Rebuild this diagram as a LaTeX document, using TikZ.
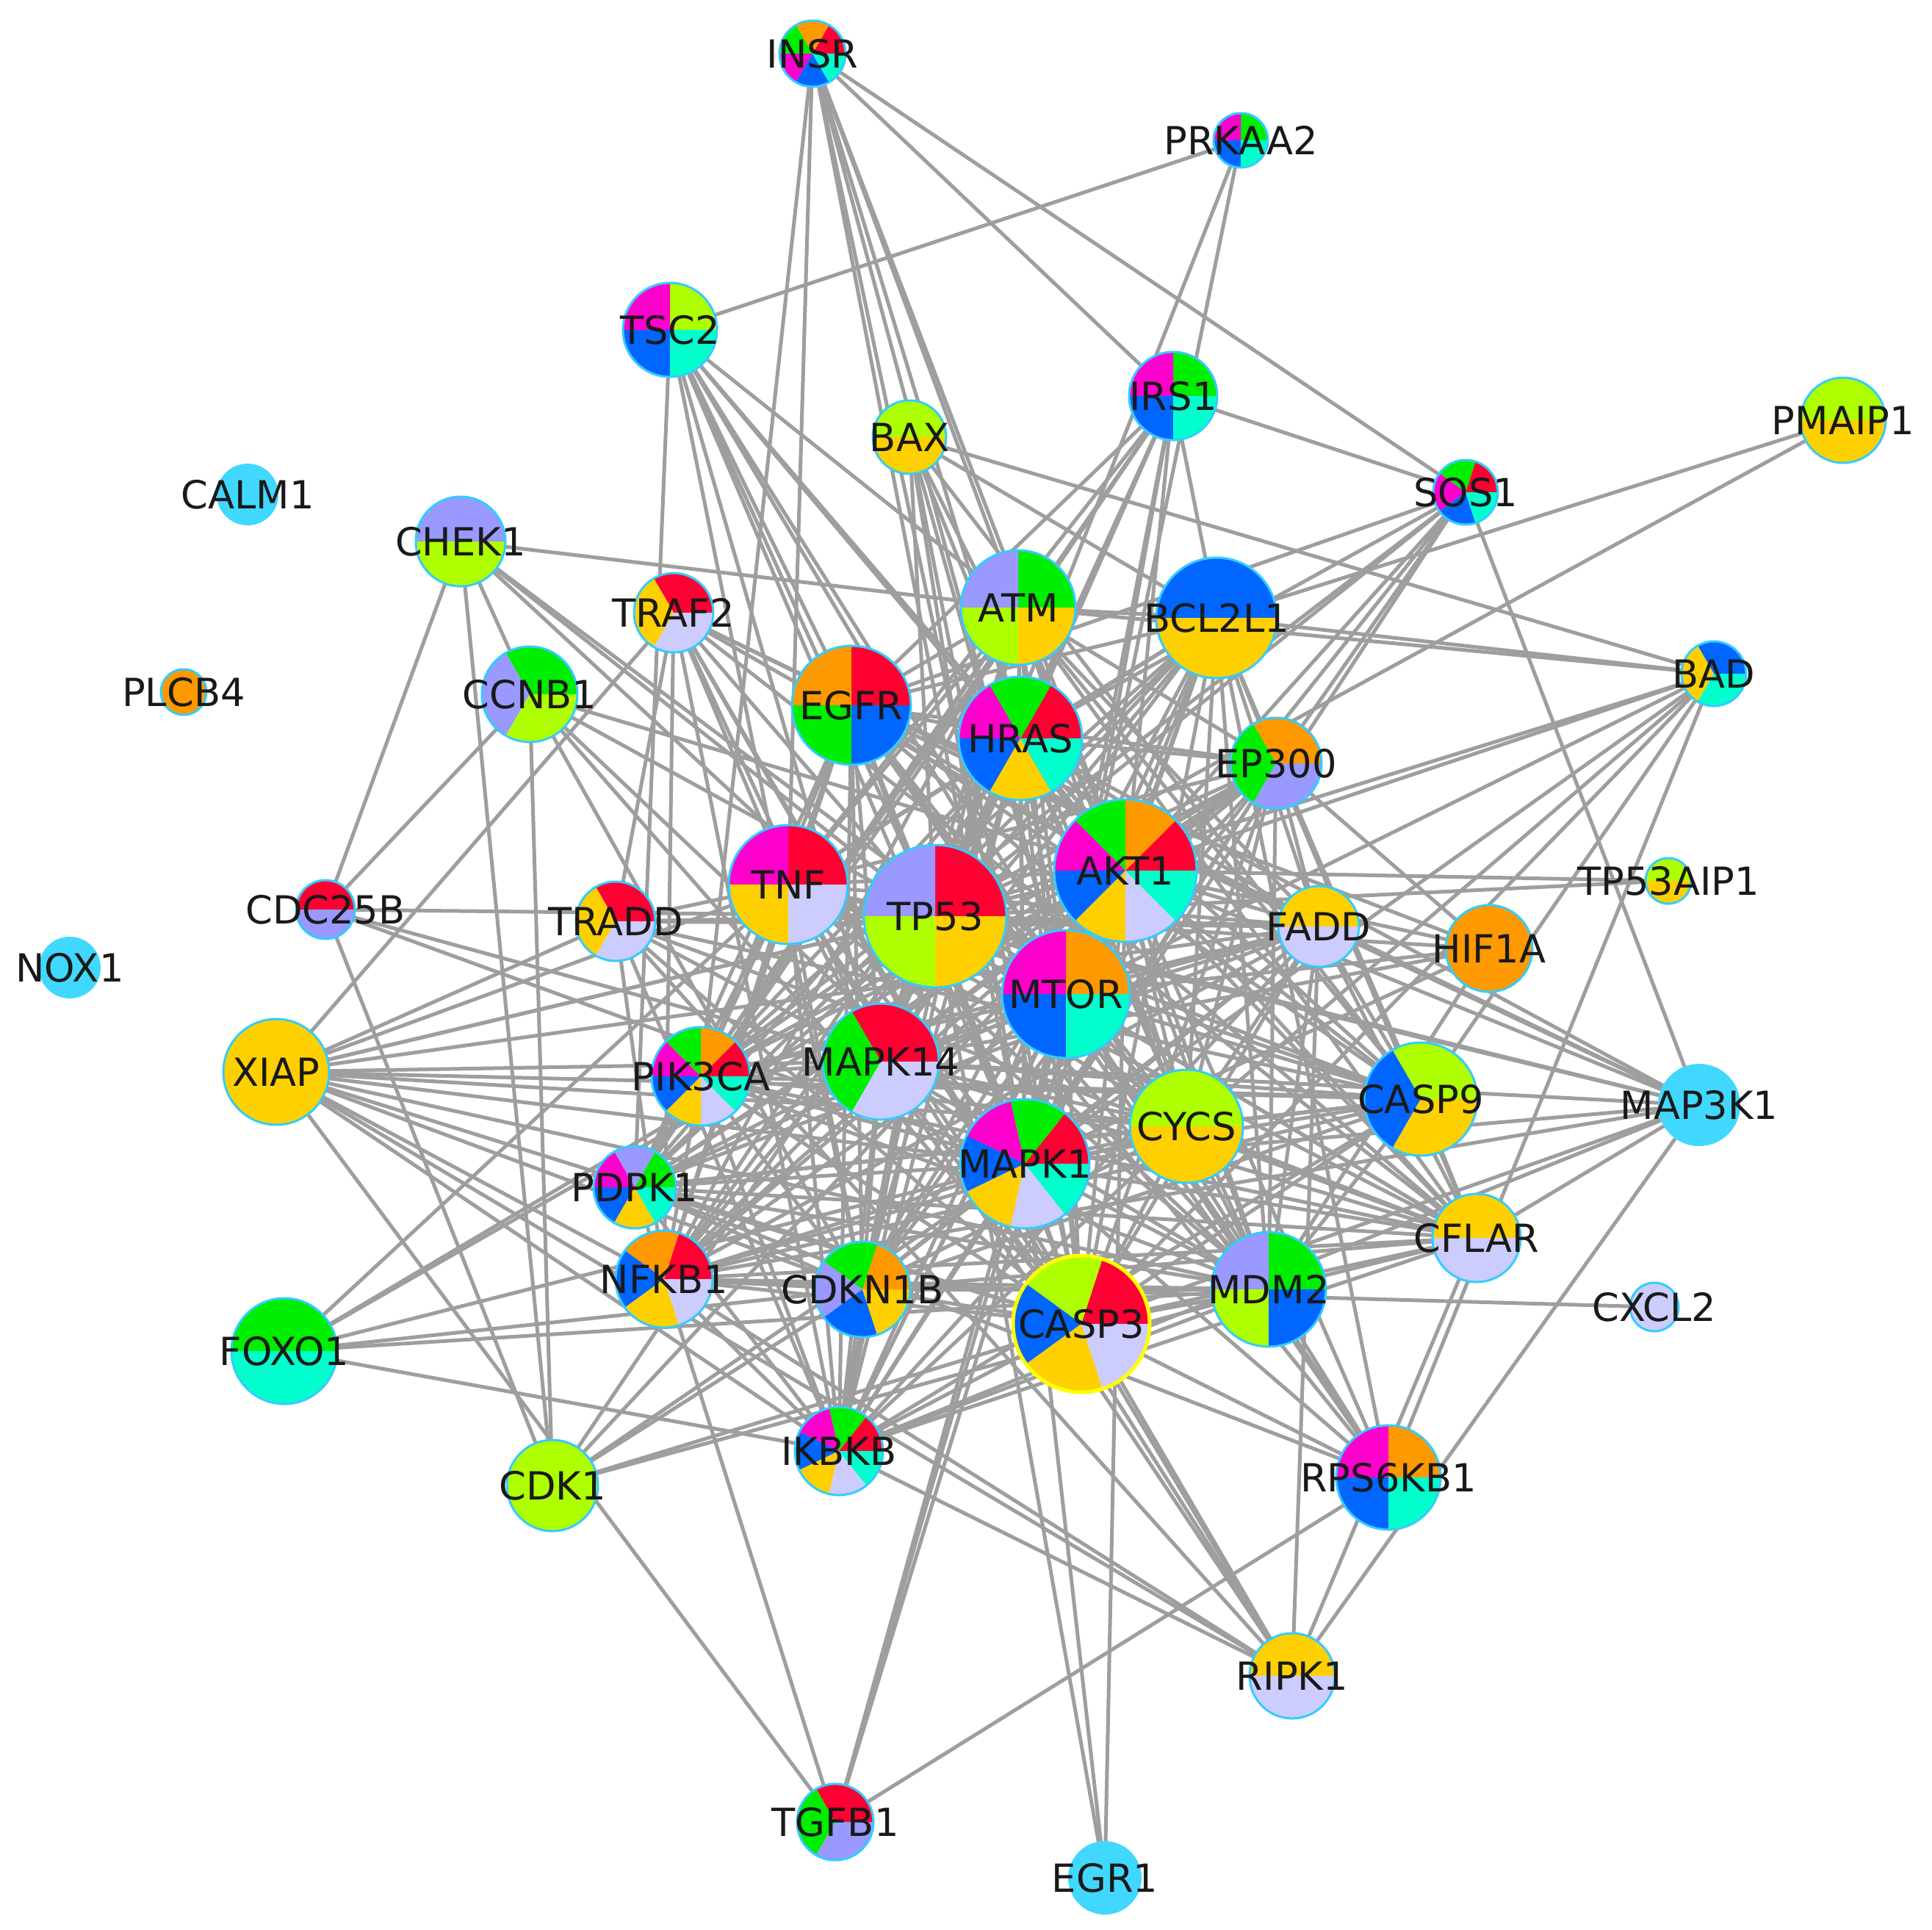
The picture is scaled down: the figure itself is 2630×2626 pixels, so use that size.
\documentclass[tikz,border=0pt]{standalone}
\usepackage{fontspec}
\setmainfont{DejaVu Sans}
\pgfdeclarelayer{bg}
\pgfdeclarelayer{edges}
\pgfdeclarelayer{labels}
\pgfsetlayers{bg,edges,main,labels}
\definecolor{pr}{HTML}{FF0033}
\definecolor{po}{HTML}{FF9900}
\definecolor{pg}{HTML}{00EE00}
\definecolor{pm}{HTML}{FF00CC}
\definecolor{pb}{HTML}{0066FF}
\definecolor{py}{HTML}{FFD000}
\definecolor{pl}{HTML}{CCCCFF}
\definecolor{pc}{HTML}{00FFCC}
\definecolor{pp}{HTML}{9999FF}
\definecolor{pyg}{HTML}{AEFF00}
\definecolor{lb}{HTML}{40D8FF}
\definecolor{nb}{HTML}{33CCFF}
\definecolor{eg}{HTML}{9E9E9E}
\definecolor{cy}{HTML}{FFFF00}
\tikzset{
  gn/.style={circle, inner sep=0pt, outer sep=0pt, draw=nb, line width=0.3mm},
  bluenode/.style={circle, inner sep=0pt, outer sep=0pt, fill=lb},
  edge/.style={draw=eg, line width=0.5mm},
  lbl/.style={font=\fontsize{15}{18}\selectfont, text=black!90, inner sep=0pt},
}
\newcommand\pieslices[3]{%
  \foreach \col [count=\i from 0] in {#3}{%
    \fill[\col] (path picture bounding box.center) -- ++({\i*360/#1}:{#2})
      arc[start angle={\i*360/#1}, delta angle={360/#1}, radius={#2}] -- cycle;
  }%
}
\newcommand\pn[6]{\node[gn, minimum size={2*#4mm}, path picture={\pieslices{#5}{#4mm+1mm}{#6}}] (#1) at (#2,#3) {};}
\newcommand\sn[5]{\node[gn, minimum size={2*#4mm}, fill=#5] (#1) at (#2,#3) {};}
\newcommand\bn[4]{\node[bluenode, minimum size={2*#4mm}] (#1) at (#2,#3) {};}
\begin{document}
\begin{tikzpicture}[x=0.1mm,y=-0.1mm]
\begin{pgfonlayer}{bg}
\fill[white] (0,0) rectangle (2630,2626);
\end{pgfonlayer}
\useasboundingbox (0,0) rectangle (2630,2626);
% nodes
\pn{INSR}{1106}{73}{4.5}{6}{pr,po,pg,pm,pb,pc}
\pn{PRKAA2}{1689}{191}{3.7}{4}{pg,pm,pb,pc}
\pn{TSC2}{912}{449}{6.4}{4}{pyg,pm,pb,pc}
\pn{IRS1}{1597}{539}{6.0}{4}{pg,pm,pb,pc}
\pn{BAX}{1238}{595}{5.0}{2}{pyg,py}
\pn{SOS1}{1995}{670}{4.4}{5}{pr,pg,pm,pb,pc}
\pn{PMAIP1}{2509}{572}{5.8}{2}{pyg,py}
\bn{CALM1}{337}{673}{4.2}
\pn{CHEK1}{627}{737}{6.1}{2}{pp,pyg}
\pn{TRAF2}{917}{834}{5.4}{3}{pr,py,pl}
\pn{ATM}{1386}{827}{7.8}{4}{pg,pp,pyg,py}
\pn{BCL2L1}{1656}{841}{8.2}{2}{pb,py}
\pn{BAD}{2333}{917}{4.4}{3}{pb,py,pc}
\sn{PLCB4}{250}{942}{3.1}{po}
\pn{CCNB1}{721}{945}{6.5}{3}{pg,pp,pyg}
\pn{EGFR}{1159}{960}{8.1}{4}{pr,po,pg,pb}
\pn{HRAS}{1389}{1005}{8.4}{6}{pr,pg,pm,pb,py,pc}
\pn{EP300}{1737}{1039}{6.2}{3}{po,pg,pp}
\pn{CDC25B}{443}{1238}{4.0}{2}{pr,pp}
\pn{TRADD}{838}{1254}{5.4}{3}{pr,py,pl}
\pn{TNF}{1073}{1204}{8.1}{4}{pr,pm,py,pl}
\pn{TP53}{1273}{1247}{9.7}{4}{pr,pp,pyg,py}
\pn{AKT1}{1532}{1185}{9.7}{8}{pr,po,pg,pm,pb,py,pl,pc}
\pn{TP53AIP1}{2271}{1199}{3.1}{2}{pyg,py}
\pn{FADD}{1795}{1261}{5.5}{2}{py,pl}
\sn{HIF1A}{2027}{1291}{5.9}{po}
\bn{NOX1}{95}{1317}{4.2}
\pn{MTOR}{1451}{1353}{8.7}{4}{po,pm,pb,pc}
\sn{XIAP}{376}{1459}{7.2}{py}
\pn{PIK3CA}{954}{1465}{6.7}{8}{pr,po,pg,pm,pb,py,pl,pc}
\pn{MAPK14}{1199}{1445}{7.9}{3}{pr,pg,pl}
\pn{CYCS}{1615}{1533}{7.7}{2}{pyg,py}
\pn{CASP9}{1934}{1496}{7.7}{3}{pyg,pb,py}
\bn{MAP3K1}{2313}{1504}{5.6}
\pn{MAPK1}{1395}{1584}{8.8}{7}{pr,pg,pm,pb,py,pl,pc}
\pn{PDPK1}{864}{1616}{5.6}{6}{pg,pp,pm,pb,py,pc}
\pn{CFLAR}{2010}{1685}{6.0}{2}{py,pl}
\pn{NFKB1}{904}{1741}{6.6}{5}{pr,po,pb,py,pl}
\pn{CDKN1B}{1174}{1755}{6.5}{5}{po,pg,pp,pb,py}
\node[gn, draw=cy, line width=0.5mm, minimum size=18.6mm, path picture={\pieslices{5}{10.3mm}{pr,pyg,pb,py,pl}}] (CASP3) at (1472,1802) {};
\pn{MDM2}{1727}{1755}{7.8}{4}{pg,pp,pyg,pb}
\sn{CXCL2}{2252}{1779}{3.3}{pl}
\pn{FOXO1}{387}{1839}{7.2}{2}{pg,pc}
\pn{IKBKB}{1142}{1975}{6.0}{7}{pr,pg,pm,pb,py,pl,pc}
\sn{CDK1}{752}{2022}{6.2}{pyg}
\pn{RPS6KB1}{1890}{2011}{7.1}{4}{po,pm,pb,pc}
\pn{RIPK1}{1759}{2281}{5.8}{2}{py,pl}
\pn{TGFB1}{1137}{2480}{5.2}{3}{pr,pg,pp}
\bn{EGR1}{1504}{2556}{5.0}
% edges
\begin{pgfonlayer}{edges}
\foreach \a [count=\i] in {TP53,AKT1,EGFR,HRAS,MTOR,MAPK1,MAPK14,TNF,CASP3,PIK3CA,NFKB1,EP300,MDM2,BCL2L1,ATM,CASP9,CYCS,CDKN1B,IKBKB,PDPK1,FADD,CFLAR}{
  \foreach \b [count=\j] in {TP53,AKT1,EGFR,HRAS,MTOR,MAPK1,MAPK14,TNF,CASP3,PIK3CA,NFKB1,EP300,MDM2,BCL2L1,ATM,CASP9,CYCS,CDKN1B,IKBKB,PDPK1,FADD,CFLAR}{
    \ifnum\j>\i \draw[edge] (\a) -- (\b); \fi}}
\foreach \a/\b in {INSR/IRS1,INSR/SOS1,INSR/PIK3CA,INSR/TNF,INSR/HRAS,INSR/AKT1,INSR/MTOR,
  INSR/MAPK1,INSR/ATM,INSR/CASP3,
  PRKAA2/TSC2,PRKAA2/TP53,PRKAA2/MTOR,
  TSC2/AKT1,TSC2/MTOR,TSC2/RPS6KB1,TSC2/HRAS,TSC2/TP53,TSC2/MAPK1,TSC2/ATM,TSC2/CDKN1B,
  TSC2/MAPK14,TSC2/PDPK1,TSC2/EGFR,
  IRS1/SOS1,IRS1/AKT1,IRS1/MTOR,IRS1/PIK3CA,IRS1/PDPK1,IRS1/EGFR,IRS1/HRAS,IRS1/MAPK1,
  IRS1/TNF,IRS1/MAPK14,IRS1/RPS6KB1,IRS1/TP53,
  BAX/BAD,BAX/TP53,BAX/BCL2L1,BAX/CASP3,BAX/CYCS,BAX/AKT1,BAX/MAPK1,BAX/CASP9,BAX/MTOR,
  SOS1/MAP3K1,SOS1/EGFR,SOS1/HRAS,SOS1/AKT1,SOS1/PIK3CA,SOS1/MAPK1,SOS1/EP300,SOS1/TP53,SOS1/MTOR,
  PMAIP1/BCL2L1,PMAIP1/TP53,
  CHEK1/ATM,CHEK1/TP53,CHEK1/MDM2,CHEK1/MTOR,CHEK1/CDC25B,CHEK1/CDK1,CHEK1/CCNB1}{
  \draw[edge] (\a) -- (\b);}
\foreach \a/\b in {TRAF2/XIAP,TRAF2/TNF,TRAF2/TRADD,TRAF2/RIPK1,TRAF2/MAP3K1,TRAF2/NFKB1,
  TRAF2/IKBKB,TRAF2/CASP3,TRAF2/MAPK14,TRAF2/CFLAR,TRAF2/AKT1,TRAF2/TP53,TRAF2/FADD,
  TRADD/TNF,TRADD/FADD,TRADD/RIPK1,TRADD/XIAP,TRADD/NFKB1,TRADD/IKBKB,TRADD/CASP3,
  TRADD/CFLAR,TRADD/MAPK14,TRADD/CASP9,TRADD/TP53,
  CCNB1/CDC25B,CCNB1/CDK1,CCNB1/CDKN1B,CCNB1/TP53,CCNB1/MAPK1,CCNB1/CASP3,CCNB1/AKT1,
  CDC25B/CDK1,CDC25B/MAPK14,CDC25B/MAPK1,CDC25B/TP53,
  XIAP/TNF,XIAP/TP53,XIAP/AKT1,XIAP/CASP9,XIAP/CYCS,XIAP/MAPK1,XIAP/MDM2,XIAP/CASP3,
  XIAP/NFKB1,XIAP/RIPK1,XIAP/TGFB1,XIAP/FADD,XIAP/IKBKB,XIAP/MAPK14,XIAP/CDKN1B,
  FOXO1/TNF,FOXO1/AKT1,FOXO1/EP300,FOXO1/MAPK1,FOXO1/CDKN1B,FOXO1/MDM2,FOXO1/IKBKB,
  CDK1/AKT1,CDK1/TP53,CDK1/MAPK1,CDK1/CDKN1B,CDK1/CASP3,CDK1/MDM2}{
  \draw[edge] (\a) -- (\b);}
\foreach \a/\b in {TGFB1/NFKB1,TGFB1/MAPK1,TGFB1/AKT1,TGFB1/MTOR,TGFB1/RPS6KB1,
  EGR1/TP53,EGR1/MAPK1,EGR1/AKT1,
  RIPK1/CASP3,RIPK1/TNF,RIPK1/MAPK14,RIPK1/IKBKB,RIPK1/NFKB1,RIPK1/FADD,RIPK1/CFLAR,RIPK1/MAP3K1,
  RPS6KB1/MTOR,RPS6KB1/AKT1,RPS6KB1/PDPK1,RPS6KB1/MAPK1,RPS6KB1/TP53,RPS6KB1/BAD,
  RPS6KB1/EGFR,RPS6KB1/CASP3,
  CXCL2/NFKB1,
  MAP3K1/AKT1,MAP3K1/HRAS,MAP3K1/EGFR,MAP3K1/TNF,MAP3K1/TP53,MAP3K1/MAPK14,MAP3K1/MAPK1,
  MAP3K1/IKBKB,MAP3K1/CASP3,MAP3K1/CFLAR,MAP3K1/NFKB1,
  TP53AIP1/TP53,TP53AIP1/AKT1,
  HIF1A/TP53,HIF1A/AKT1,HIF1A/MTOR,HIF1A/EP300,HIF1A/MAPK1,HIF1A/EGFR,HIF1A/MDM2,HIF1A/MAPK14,
  BAD/BCL2L1,BAD/ATM,BAD/AKT1,BAD/TP53,BAD/MTOR,BAD/MAPK1,BAD/CYCS,BAD/CASP3,BAD/CASP9}{
  \draw[edge] (\a) -- (\b);}
\end{pgfonlayer}
% labels
\begin{pgfonlayer}{labels}
\foreach \n in {INSR,PRKAA2,TSC2,IRS1,BAX,SOS1,PMAIP1,CALM1,CHEK1,TRAF2,ATM,BCL2L1,BAD,
  PLCB4,CCNB1,EGFR,HRAS,EP300,CDC25B,TRADD,TNF,TP53,AKT1,TP53AIP1,FADD,HIF1A,NOX1,MTOR,
  XIAP,PIK3CA,MAPK14,CYCS,CASP9,MAP3K1,MAPK1,PDPK1,CFLAR,NFKB1,CDKN1B,CASP3,MDM2,CXCL2,
  FOXO1,IKBKB,CDK1,RPS6KB1,RIPK1,TGFB1,EGR1}{
  \node[lbl] (\n-t) at (\n.center) {\n};}
\end{pgfonlayer}
\end{tikzpicture}
\end{document}
